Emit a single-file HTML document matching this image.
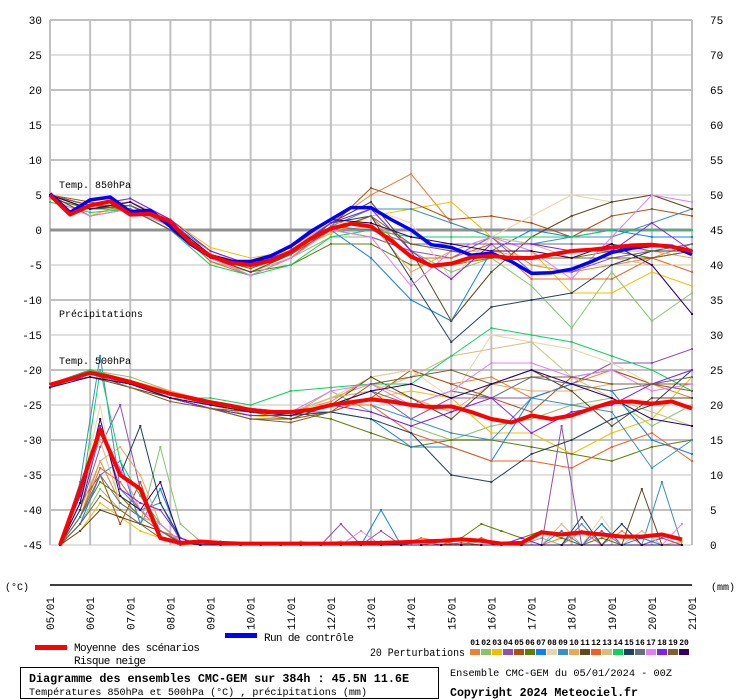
<!DOCTYPE html>
<html><head><meta charset="utf-8"><style>
body{margin:0;background:#fff;}
svg{display:block;font-family:"Liberation Mono",monospace;}
</style></head><body>
<svg id="chart" width="740" height="700" viewBox="0 0 740 700" xmlns="http://www.w3.org/2000/svg">
<g id="grid"></g>
<g id="axes"></g>
<g id="series"></g>
<text x="59" y="188" font-size="10">Temp. 850hPa</text>
<text x="59" y="317" font-size="10">Précipitations</text>
<text x="59" y="364" font-size="10">Temp. 500hPa</text>
<text x="5" y="590" font-size="10">(°C)</text>
<text x="711" y="590" font-size="10">(mm)</text>
<line x1="50" y1="585" x2="692" y2="585" stroke="#000" stroke-width="1.5"/>
<g>
<rect x="35" y="645" width="32" height="5" fill="#ff0000"/>
<text x="74" y="651" font-size="11" textLength="126">Moyenne des scénarios</text>
<text x="74" y="664" font-size="11" textLength="72">Risque neige</text>
<rect x="225" y="633" width="32" height="5" fill="#0000ff"/>
<text x="264" y="641" font-size="11" textLength="90">Run de contrôle</text>
<text x="370" y="656" font-size="11" textLength="95" lengthAdjust="spacingAndGlyphs">20 Perturbations</text>
<g id="swatches"></g>
</g>
<rect x="20.5" y="667.5" width="418" height="31" fill="none" stroke="#000"/>
<text x="29" y="682" font-size="11.5" font-weight="bold" textLength="380" lengthAdjust="spacingAndGlyphs">Diagramme des ensembles CMC-GEM sur 384h : 45.5N 11.6E</text>
<text x="29" y="695" font-size="10.5" textLength="338" lengthAdjust="spacingAndGlyphs">Températures 850hPa et 500hPa (°C) , précipitations (mm)</text>
<text x="450" y="676" font-size="10.5" textLength="222" lengthAdjust="spacingAndGlyphs">Ensemble CMC-GEM du 05/01/2024 - 00Z</text>
<text x="450" y="696" font-size="11.5" font-weight="bold" textLength="188" lengthAdjust="spacingAndGlyphs">Copyright 2024 Meteociel.fr</text>
</svg>
<script>
const dates=["05/01","06/01","07/01","08/01","09/01","10/01","11/01","12/01","13/01","14/01","15/01","16/01","17/01","18/01","19/01","20/01","21/01"];
const leftTicks=[30,25,20,15,10,5,0,-5,-10,-15,-20,-25,-30,-35,-40,-45];
const rightTicks=[75,70,65,60,55,50,45,40,35,30,25,20,15,10,5,0];
const colors=["#e8823a","#88c46a","#f0c000","#9050b0","#b05010","#608000","#1080f0","#e8d4a8","#3890c0","#e8a858","#604820","#f06020","#d0c080","#10d060","#204060","#607080","#e080f0","#8020f0","#806030","#300068"];
const mean850=[5,2.2,3.5,4.1,2.2,2.3,1.2,-1.8,-3.7,-4.7,-5,-4.4,-3.1,-1.2,0.2,0.9,0.5,-1.5,-3.8,-5.1,-4.8,-3.9,-3.7,-4,-4,-3.5,-3,-2.8,-2.5,-2.2,-2.1,-2.4,-3];
const ctrl850=[5.2,2.5,4.3,4.7,2.6,2.8,0.5,-2,-3.8,-4.5,-4.5,-3.7,-2.3,-0.2,1.5,3.2,3.2,1.5,0,-2.1,-2.5,-3.6,-3.3,-4.5,-6.2,-6.1,-5.6,-4.5,-3.2,-2.6,-2.2,-2.3,-3.5];
const mean500=[-22.1,-21.3,-20.4,-21,-21.7,-22.6,-23.4,-24,-24.6,-25.1,-25.7,-26,-26,-25.7,-25,-24.6,-24.2,-24.5,-25,-25.3,-25.2,-26,-27,-27.5,-26.5,-27,-26.5,-25.5,-24.6,-24.5,-24.8,-24.5,-25.5];
const meanPrecip=[0,8,16.5,10,8,1,0.3,0.5,0.3,0.2,0.2,0.2,0.2,0.2,0.2,0.3,0.3,0.4,0.5,0.6,0.8,0.6,0.2,0.3,1.8,1.5,1.8,1.5,1.2,1.2,1.5,0.8];
const m850_01=[5,3.5,3,1,-4,-5.5,-3,1,5,8,1,-1,-5,-6,-5,-4,-2];
const m850_02=[4.5,3,3.5,0.5,-4.5,-6,-4,-1,-1,-3,-6,-4,-8,-14,-6,-13,-9];
const m850_03=[5,2,4,1.5,-2.5,-4,-3,-0.5,2,3,4,-1,-3,-9,-9,-6,-8];
const m850_04=[5,3,4,0.5,-3,-5,-3.5,0,-1,-3,-4,-1,-6,-6,-4,-3,-2];
const m850_05=[5,4,3,1,-4,-6.5,-4,0.5,6,4,1.5,2,1,-1,2,3,2];
const m850_06=[4.5,3,3,0,-4,-6,-5,-2,-2,-5,-5,-4,-4,-4,-3,-4,-3];
const m850_07=[5,3.5,4,1,-3,-5,-3,0,-4,-10,-13,-3,0,-1,0,-1,-1];
const m850_08=[5,3,4.5,1.5,-3,-5.5,-2,1,3,1,-7,-1,2,5,4,5,3];
const m850_09=[5,3,3.5,1,-3.5,-5,-3,0.5,3,3,1,-1,-2,-1,-1,1,3];
const m850_10=[5,3.5,4,0.5,-3,-5,-2.5,1,1,-6,-3,-3,-4,-3,-3,-3,-4];
const m850_11=[5,2,3,0,-4,-6,-3.5,1,4,-3,-13,-6,-1,2,4,5,3];
const m850_12=[5,3.5,3.5,1,-4.5,-6.5,-4,0,2,-4,-4,-2,-7,-7,-7,-4,-6];
const m850_13=[5,3.5,4,1.5,-3,-5,-3,0.5,1,-2,-3,-1,-2,-4,-4,-5,-5];
const m850_14=[4,2.5,3,0,-5,-6.5,-5,-1,0,-1,-1,-1,-1,-1,0,0,0];
const m850_15=[5,3,3.5,1,-4,-5,-3,1,2,-7,-16,-11,-10,-9,-5,-3,-3];
const m850_16=[5,3.5,3.5,0.5,-3.5,-5,-3,0.5,0,-2,-2,-2,-2,-2,-2,-3,-2];
const m850_17=[4.5,2,3,0.5,-4,-6.5,-4,0,-1,-8,-3,-1,-3,-7,-1,5,4];
const m850_18=[5,3.5,4.5,1.5,-3,-5,-3,1,3,-3,-7,-2,-2,-3,-3,1,-3];
const m850_19=[5,3.5,3,0,-4,-5.5,-3.5,0,2,-2,-3,-4,-4,-4,-4,-4,-3];
const m850_20=[5,3,4,1,-3.5,-5,-2.5,1.5,1,-1,-2,-3,-3,-4,-2,-5,-12];
const m500_01=[-22,-20.5,-21.5,-23.5,-25,-26,-26,-24.5,-21,-20,-22,-21,-24,-22,-20,-22,-24];
const m500_02=[-22,-20,-21,-23,-24.5,-26,-26.5,-23,-26,-28,-30,-28,-27,-25,-24,-28,-25];
const m500_03=[-22,-21,-22,-24,-25,-26.5,-27,-25,-24,-23,-24,-29,-29,-32,-29,-27,-21];
const m500_04=[-22,-20,-21.5,-23.5,-25,-25.5,-26,-24,-23,-27,-24,-24,-24,-22,-19,-19,-17];
const m500_05=[-22,-20.5,-22,-24,-25.5,-26,-27,-26,-24,-20,-22,-24,-26,-21,-20,-22,-22];
const m500_06=[-22.5,-20.5,-22,-24,-25.5,-26,-26,-27,-29,-31,-30,-30,-31,-32,-33,-31,-30];
const m500_07=[-22,-21,-22,-24,-25,-26,-26,-26,-27,-31,-31,-33,-24,-22,-23,-30,-32];
const m500_08=[-22,-21,-22,-23.5,-25,-26,-26.5,-24,-21,-20,-24,-15,-16,-17,-19,-22,-20];
const m500_09=[-22,-20.5,-22,-24,-25,-25.5,-26,-25,-25,-27,-29,-30,-24,-25,-26,-34,-30];
const m500_10=[-22,-20.5,-21.5,-23,-24.5,-26,-26,-24,-22,-24,-26,-22,-23,-23,-22,-22,-21];
const m500_11=[-22,-21,-22.5,-24,-25.5,-27,-27,-25,-21,-24,-27,-22,-20,-23,-28,-24,-24];
const m500_12=[-22,-20,-21.5,-23.5,-25,-26,-26,-25,-25,-29,-31,-33,-33,-34,-31,-29,-33];
const m500_13=[-22,-20.5,-21.5,-24,-25,-26,-26,-24,-23,-21,-18,-17,-16,-21,-24,-26,-28];
const m500_14=[-22,-20,-21.5,-24,-24,-25,-23,-22.5,-22,-22,-18,-14,-15,-16,-18,-20,-23];
const m500_15=[-22,-21,-22,-24,-25.5,-26.5,-26.5,-26,-27,-29,-35,-36,-32,-30,-27,-25,-20];
const m500_16=[-22,-20.5,-22,-23.5,-25,-26,-26,-25,-23,-25,-23,-24,-21,-22,-23,-22,-21];
const m500_17=[-22,-20.5,-22,-23.5,-24.5,-25.5,-26,-23,-22,-25,-23,-19,-19,-21,-20,-23,-22];
const m500_18=[-22,-21,-22,-24,-25.5,-26.5,-26.5,-25,-26,-28,-26,-24,-29,-26,-25,-22,-20];
const m500_19=[-22,-20.5,-22.5,-24.5,-25.5,-27,-27.5,-26,-22,-21,-20,-22,-21,-21,-22,-22,-23];
const m500_20=[-22.5,-21,-22,-24,-25,-26,-26.5,-25,-23,-22,-24,-22,-20,-22,-24,-27,-28];
const pr_01=[0,4,12,6,4,2,0.5,0.2,0,0,0,0,0,0.3,0.5,0,0,0,1,0.5,0,0,0,0,0,1,0,0,2,0,1,0];
const pr_02=[0,3,8,5,3,14,3,0.5,0,0,0,0,0.5,0,0,0,0,0,0,0,0,0.5,0,0,1,0,0,3,0,0,0,0];
const pr_03=[0,2,6,4,2,1,0.3,0,0,0,0,0,0,0,0,0,0,0,0,0,0,0,0,0,0,0,0,0,0,0,0,0.5];
const pr_04=[0,5,14,20,8,2,0.5,0,0.5,0,0,0,0,0,3,0,2,0,0.5,0,0,0,0,0,0,17,0,2,0,0,1,0];
const pr_05=[0,6,10,3,9,1,0,0.3,0,0,0,0,0,0,0,0,0,0,0,0,0.3,0,0,0,0,0,0,0,0,0,0,0];
const pr_06=[0,4,9,7,4,3,0.5,0,0,0,0,0,0,0,0,0,0,0,0,0,1,3,2,1,2,1,0,1,0,0,0,0];
const pr_07=[0,3,10,12,3,8,1,0,0,0,0,0,0,0,0,0,5,0,0,0,0,0,0,0,0,2,0,3,0,1,0,0];
const pr_08=[0,7,20,5,3,2,0.5,0,0,0,0,0,0,0,0,0,0,0,0,0,0,0,0,0,0,0,0,4,0,0,0,0];
const pr_09=[0,9,27,8,5,6,0.5,0,0,0,0,0,0,0,0,0,0.5,0,0,0,0,0,0,0,0,0,3,0,0,0,9,0];
const pr_10=[0,5,12,14,10,3,0.3,0.5,0,0,0,0,0,0,0,0,0,0,0,0,0,0,0,0,0,0,0,0,0,0,0,0];
const pr_11=[0,2,5,4,3,2,0.3,0,0,0,0,0,0,0,0,0,0,0,0,0,0,0,0,0,0,0,0,0,0,8,0,0];
const pr_12=[0,4,11,9,5,2,1,0,0,0,0,0,0,0,0,0,0,0,0,0.5,0,1,0,0,0,0,2,0,0,0,0,0];
const pr_13=[0,8,15,6,4,3,0.5,0,0,0,0,0,0,0,0,0,0,0,0,0,0,0,0,0,0,3,0,0,0,2,0,0];
const pr_14=[0,6,25,12,7,3,0.5,0,0,0,0,0,0,0,0,0,0,0,0,0,0,0,0,0,0,0,0,0,0,0,0,0];
const pr_15=[0,5,16,10,17,6,1,0,0,0,0,0,0,0,0,0,0,0,0,0,0,0,0,0,0,0,4,0,3,0,0,0];
const pr_16=[0,4,10,6,4,2,0.5,0,0,0,0,0,0,0,0,0,0,0,0,0,0,0,0,0,0,0,0,0,0,0,0,0];
const pr_17=[0,6,16,11,5,3,0.5,0,0,0,0,0,0,0,0,2,0,0,0,0,0,0,0,0,0,0,0,0,0,0,0,3];
const pr_18=[0,7,17,8,6,5,1,0,0,0,0,0,0,0,0,0,0,0,0,0,0,0,0,1,0,0,0,0,0,0,0,0];
const pr_19=[0,3,7,5,3,1,0.3,0,0,0,0,0,0,0,0,0,0,0,0,0,0,0,0,0,0,0,0,0,0,0,0,0];
const pr_20=[0,6,18,7,5,9,0.5,0,0,0,0,0,0,0,0,0,0,0,0,0,0,0,0,0,0,0,0,0,0,0,0,0];
const members850=[m850_01,m850_02,m850_03,m850_04,m850_05,m850_06,m850_07,m850_08,m850_09,m850_10,m850_11,m850_12,m850_13,m850_14,m850_15,m850_16,m850_17,m850_18,m850_19,m850_20];
const members500=[m500_01,m500_02,m500_03,m500_04,m500_05,m500_06,m500_07,m500_08,m500_09,m500_10,m500_11,m500_12,m500_13,m500_14,m500_15,m500_16,m500_17,m500_18,m500_19,m500_20];
const membersPr=[pr_01,pr_02,pr_03,pr_04,pr_05,pr_06,pr_07,pr_08,pr_09,pr_10,pr_11,pr_12,pr_13,pr_14,pr_15,pr_16,pr_17,pr_18,pr_19,pr_20];

const NS="http://www.w3.org/2000/svg";
const X0=50,X1=692,NDAYS=16;
function xH(h){return X0+h*(X1-X0)/(NDAYS*24);}
function yT(v){return 230-7*v;}
function yP(mm){return 545-7*mm;}
function mk(tag,attrs,parent){const e=document.createElementNS(NS,tag);for(const k in attrs)e.setAttribute(k,attrs[k]);parent.appendChild(e);return e;}
const grid=document.getElementById('grid'),axes=document.getElementById('axes'),series=document.getElementById('series');
leftTicks.forEach((v,i)=>{
  const y=yT(v);
  if(v!==0){
    const l=mk('line',{x1:X0,x2:X1,y1:y,y2:y,stroke:'#c0c0c0','stroke-width':(v%10===0)?2:1},grid);
    
    
  }
  const t=mk('text',{x:42,y:y+4,'font-size':11,'text-anchor':'end'},axes);
  t.textContent=v;
  
  
  const r=mk('text',{x:710,y:yP(rightTicks[i])+4,'font-size':11},axes);
  r.textContent=rightTicks[i];
  
  
});
dates.forEach((d,i)=>{
  const x=xH(i*24);
  const l=mk('line',{x1:x,x2:x,y1:yT(30),y2:yT(-45),stroke:'#c0c0c0','stroke-width':2},grid);
  
  
  const t=mk('text',{x:0,y:0,'font-size':11,transform:`translate(${x+4},630) rotate(-90)`},axes);
  t.textContent=d;
  
  
});
const z=mk('line',{x1:X0,x2:X1,y1:yT(0),y2:yT(0),stroke:'#909090','stroke-width':3},grid);


function draw(arr,stepH,startH,yf,color,w,name,dots){
  const pts=arr.map((v,i)=>xH(startH+i*stepH).toFixed(1)+','+yf(v).toFixed(1)).join(' ');
  const p=mk('polyline',{points:pts,fill:'none',stroke:color,'stroke-width':w,'stroke-linejoin':'round'},series);
  
  
  if(dots){arr.forEach((v,i)=>{mk('rect',{x:xH(startH+i*stepH)-1,y:yf(v)-1,width:2,height:2,fill:color},series);});}
}
membersPr.forEach((a,i)=>draw(a,12,6,yP,colors[i],1,'precip-member-'+(i+1),true));
members500.forEach((a,i)=>draw(a,24,0,yT,colors[i],1,'t500-member-'+(i+1),true));
members850.forEach((a,i)=>draw(a,24,0,yT,colors[i],1,'t850-member-'+(i+1),true));
draw(ctrl850,12,0,yT,'#0000ff',3.5,'t850-control',false);
draw(mean850,12,0,yT,'#ff0000',4,'t850-mean',false);
draw(mean500,12,0,yT,'#ff0000',4,'t500-mean',false);
draw(meanPrecip,12,6,yP,'#ff0000',4,'precip-mean',false);
const sw=document.getElementById('swatches');
colors.forEach((c,i)=>{
  const r=mk('rect',{x:470+i*11,y:649,width:10,height:6,fill:c},sw);
  
  
  const t=mk('text',{x:470+i*11+5,y:645,'font-size':8,'text-anchor':'middle','font-weight':'bold'},sw);
  t.textContent=String(i+1).padStart(2,'0');
  
  
});
</script>
</body></html>
